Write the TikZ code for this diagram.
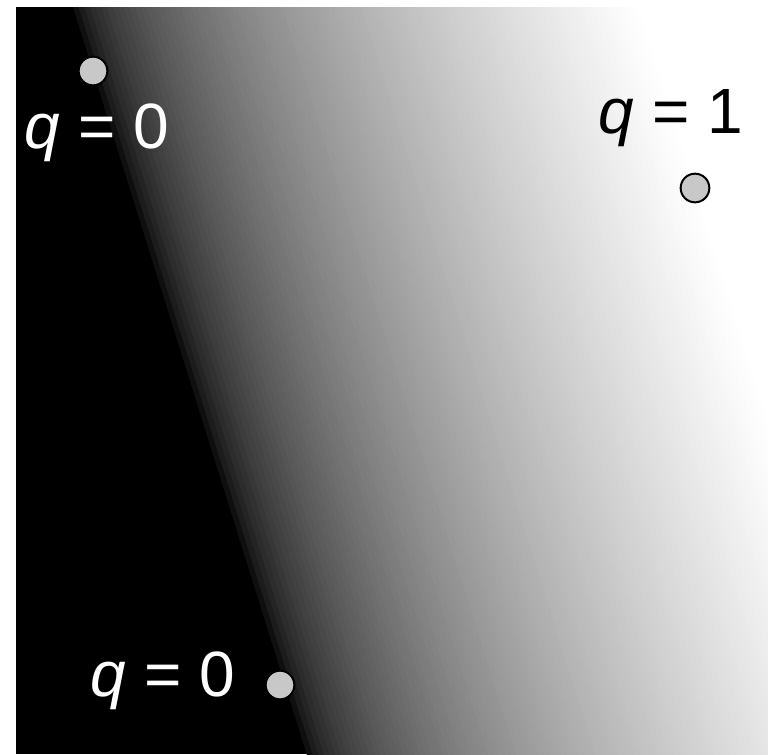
\documentclass[tikz,border=0pt]{standalone}
\usepackage{fontspec}
\setmainfont{Liberation Sans}
\definecolor{dotgray}{RGB}{200,200,200}
\begin{document}
\begin{tikzpicture}[x=0.75pt,y=-0.75pt,
  dot/.style={circle,draw=black,line width=1.5pt,fill=dotgray,minimum size=21.5pt,inner sep=0pt},
  lbl/.style={anchor=base,inner sep=0pt,font=\fontsize{48}{58}\selectfont}]
\useasboundingbox (0,0) rectangle (768,754);
\fill[white] (0,0) rectangle (768,754);
\begin{scope}
  \clip (16,7) rectangle (768,754);
  \fill[black] (16,7) rectangle (768,754);
  \begin{scope}[shift={(93,71)},rotate=17.37]
    \foreach \i in {0,...,99}{
      \pgfmathsetmacro\g{100*((\i+0.5)/100)^0.53}
      \fill[white!\g!black] ({\i*5.397},-1500) rectangle ({(\i+1)*5.397+0.6},1500);
    }
    \fill[white] (539.7,-1500) rectangle (3000,1500);
  \end{scope}
\end{scope}
\node[dot] (p1) at (93,71) {};
\node[dot] (p2) at (695,188) {};
\node[dot] (p3) at (280,685) {};
\node[lbl,text=white] (l1) at (97,148) {\textit{q} = 0};
\node[lbl,text=black] (l2) at (671,133) {\textit{q} = 1};
\node[lbl,text=white] (l3) at (163,696) {\textit{q} = 0};
\end{tikzpicture}
\end{document}
